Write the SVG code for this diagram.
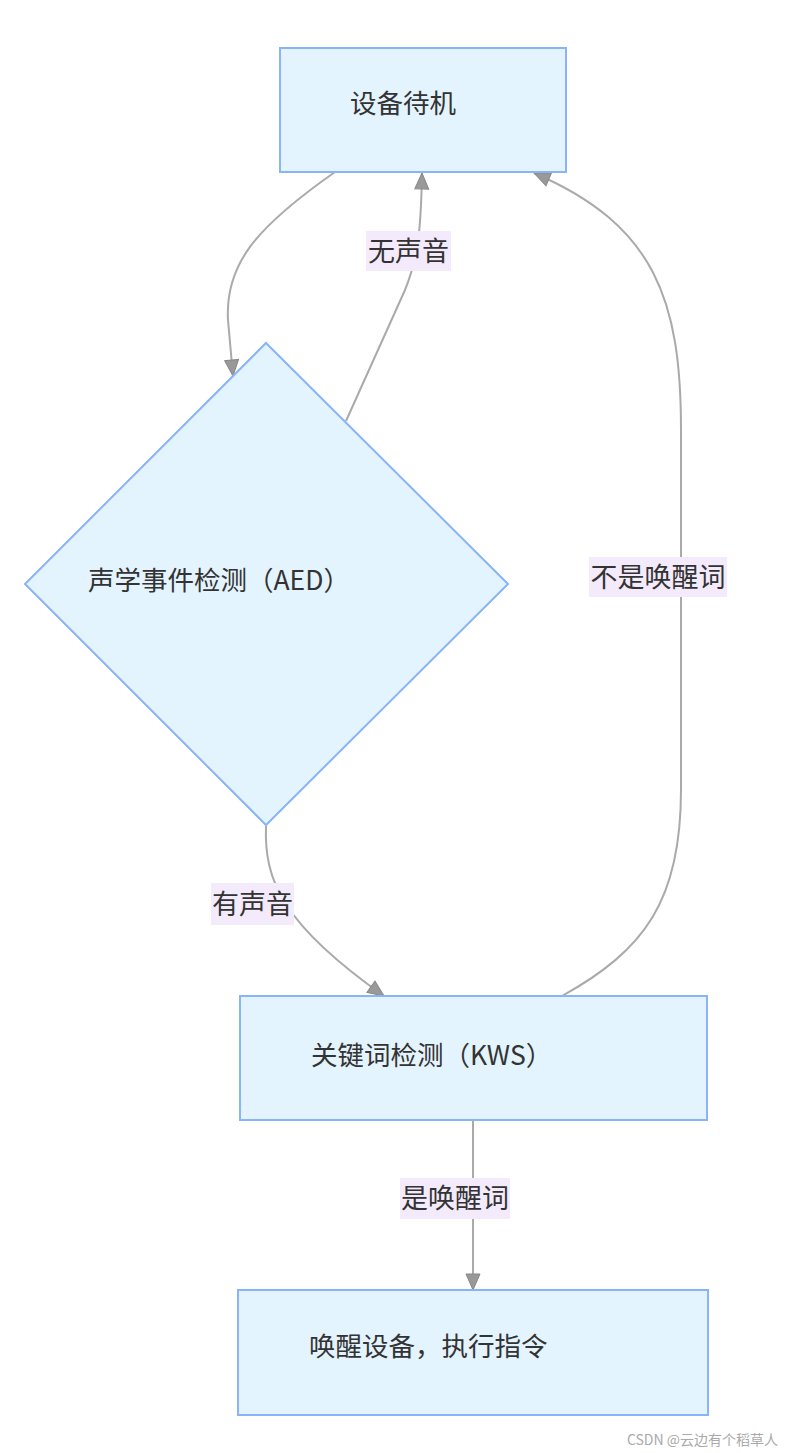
<svg xmlns="http://www.w3.org/2000/svg" width="785" height="1453" viewBox="0 0 785 1453">
<defs>
<style>
.node{fill:#e4f4fe;stroke:#8ab4f8;stroke-width:2}
.ntext{font-family:"Noto Sans CJK SC","Noto Sans",sans-serif;font-size:26.5px;fill:#333}
.edge{fill:none;stroke:#aaaaaa;stroke-width:2}
.lbg{fill:#f3ebfc}
.ltext{font-family:"Noto Sans CJK SC","Noto Sans",sans-serif;font-size:27px;fill:#333;text-anchor:middle}
.wm{font-family:"Noto Sans CJK SC","Noto Sans",sans-serif;font-size:14px;fill:#aaa;text-anchor:end}
</style>
<marker id="arr" markerUnits="userSpaceOnUse" markerWidth="18" markerHeight="16" viewBox="0 0 18 16" refX="17" refY="8" orient="auto">
<path d="M1,1 L17,8 L1,15 z" fill="#999" stroke="#888" stroke-width="1"/>
</marker>
</defs>
<rect width="785" height="1453" fill="#fff"/>
<g id="connectors">
<path class="edge" d="M335,172 C255,228 225,265 228,320 L233,376" marker-end="url(#arr)"/>
<path class="edge" d="M346,421 L405,290 C418,258 421,230 422,173" marker-end="url(#arr)"/>
<path class="edge" d="M266,826 C264,880 282,924 384,996" marker-end="url(#arr)"/>
<path class="edge" d="M562,996 C645,950 681,900 681,790 L681,430 C681,300 655,225 534,173" marker-end="url(#arr)"/>
<path class="edge" d="M473,1120 L473,1290" marker-end="url(#arr)"/>
</g>
<g id="labels">
<g id="label-nosound"><rect class="lbg" x="366" y="231" width="85" height="40"/><text class="ltext" x="408.5" y="261">无声音</text></g>
<g id="label-sound"><rect class="lbg" x="211" y="883" width="83" height="42"/><text class="ltext" x="252.5" y="914">有声音</text></g>
<g id="label-notwake"><rect class="lbg" x="589" y="557" width="138" height="40"/><text class="ltext" x="658" y="587">不是唤醒词</text></g>
<g id="label-wake"><rect class="lbg" x="400" y="1178" width="110" height="41"/><text class="ltext" x="455" y="1208">是唤醒词</text></g>
</g>
<g id="standby"><rect class="node" x="280" y="48" width="286" height="124"/><text class="ntext" x="350" y="113">设备待机</text></g>
<g id="aed"><polygon class="node" points="266,343 508,584 266,825 25,584"/><text class="ntext" x="88" y="590">声学事件检测（AED）</text></g>
<g id="kws"><rect class="node" x="240" y="996" width="467" height="124"/><text class="ntext" x="311" y="1065">关键词检测（KWS）</text></g>
<g id="wake"><rect class="node" x="238" y="1290" width="470" height="125"/><text class="ntext" x="309" y="1356">唤醒设备，执行指令</text></g>
<text class="wm" x="778" y="1445">CSDN @云边有个稻草人</text>
</svg>
